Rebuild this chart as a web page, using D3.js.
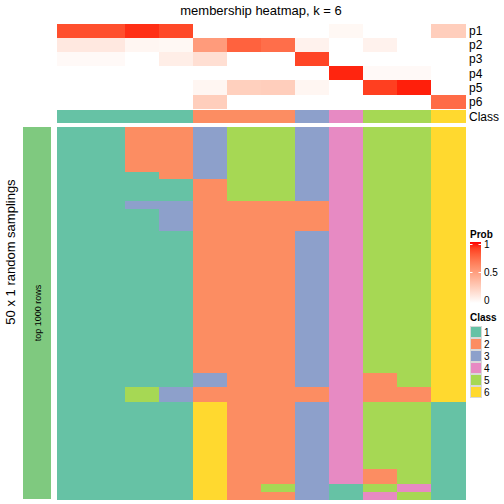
<!DOCTYPE html>
<html>
<head>
<meta charset="utf-8">
<script src="https://cdn.jsdelivr.net/npm/d3@7"></script>
<style>
  html, body { margin: 0; padding: 0; background: #fff; }
  svg { display: block; font-family: "Liberation Sans", Arial, Helvetica, sans-serif; }
</style>
</head>
<body>
<svg id="chart" width="504" height="504"></svg>
<script>
// ---------------- data ----------------
const title = "membership heatmap, k = 6";
const probRows = ["p1", "p2", "p3", "p4", "p5", "p6"];
const p1 = [0.85, 0.85, 0.94, 0.87, 0, 0, 0, 0, 0.04, 0, 0, 0.26];
const p2 = [0.12, 0.12, 0.05, 0.04, 0.52, 0.78, 0.73, 0.07, 0, 0.07, 0, 0];
const p3 = [0.03, 0.03, 0, 0.09, 0.17, 0, 0, 0.88, 0, 0, 0, 0];
const p4 = [0, 0, 0, 0, 0, 0, 0, 0, 0.96, 0.03, 0.03, 0];
const p5 = [0, 0, 0, 0, 0.05, 0.25, 0.26, 0.05, 0, 0.90, 0.97, 0];
const p6 = [0, 0, 0, 0, 0.26, 0, 0, 0, 0, 0, 0, 0.74];
const classRow = [1, 1, 1, 1, 2, 2, 2, 3, 4, 5, 5, 6];
// 50 random samplings x 12 samples: class per cell
const samplings = [
  "112235534556","112235534556","112235534556","112235534556","112235534556","112235534556",
  "111235534556",
  "111125534556","111125534556","111125534556",
  "113322224556",
  "111322224556","111322224556","111322224556",
  "111122234556","111122234556","111122234556","111122234556","111122234556",
  "111122234556","111122234556","111122234556","111122234556","111122234556",
  "111122234556","111122234556","111122234556","111122234556","111122234556",
  "111122234556","111122234556","111122234556","111122234556",
  "111132234256","111132234256",
  "115322224226","115322224226",
  "111162234551","111162234551","111162234551","111162234551","111162234551",
  "111162234551","111162234551","111162234551","111162234551",
  "111162234251","111162234251",
  "111162531541",
  "111162231451"
];
const classLabels = ["1", "2", "3", "4", "5", "6"];
const classColors = ["#66c2a5", "#fc8d62", "#8da0cb", "#e78ac3", "#a6d854", "#ffd92f"];
const probTicks = [0, 0.5, 1];
const leftBarLabel = "top 1000 rows";
const leftAxisLabel = "50 x 1 random samplings";

// ---------------- drawing ----------------
const svg = d3.select("#chart");
const nCols = classRow.length;
const probData = [p1, p2, p3, p4, p5, p6];

const x = d3.scaleBand().domain(d3.range(nCols)).range([57, 465]).paddingInner(0);
const yProb = d3.scaleBand().domain(probRows).range([24, 108.6]);
const yMain = d3.scaleBand().domain(d3.range(samplings.length)).range([127, 499]);
const probColor = d3.scaleLinear().domain([0, 1]).range(["#ffffff", "#ff0000"]).interpolate(d3.interpolateLab);
const classColor = d3.scaleOrdinal().domain(classLabels).range(classColors);

// title
svg.append("text").attr("x", 261).attr("y", 15).attr("text-anchor", "middle")
  .attr("font-size", 13).attr("fill", "#000").text(title);

// probability heatmap
const probG = svg.append("g").attr("shape-rendering", "crispEdges");
probRows.forEach((r, i) => {
  probG.selectAll(null).data(probData[i]).enter().append("rect")
    .attr("x", (d, j) => x(j)).attr("y", yProb(r))
    .attr("width", x.bandwidth() + 0.5).attr("height", yProb.bandwidth() + 0.5)
    .attr("fill", d => probColor(d));
  svg.append("text").attr("x", 469).attr("y", yProb(r) + yProb.bandwidth() / 2)
    .attr("dy", "0.35em").attr("font-size", 12).text(r);
});

// class annotation row
const classY = 110, classH = 13.4;
probG.selectAll(null).data(classRow).enter().append("rect")
  .attr("x", (d, j) => x(j)).attr("y", classY)
  .attr("width", x.bandwidth() + 0.5).attr("height", classH)
  .attr("fill", d => classColor(String(d)));
svg.append("text").attr("x", 469).attr("y", classY + classH / 2).attr("dy", "0.35em")
  .attr("font-size", 12).text("Class");

// main sampling heatmap
const cells = [];
samplings.forEach((row, i) => {
  row.split("").forEach((c, j) => cells.push({ i, j, c }));
});
svg.append("g").attr("shape-rendering", "crispEdges")
  .selectAll("rect").data(cells).enter().append("rect")
  .attr("x", d => x(d.j)).attr("y", d => yMain(d.i))
  .attr("width", x.bandwidth() + 0.5).attr("height", yMain.bandwidth() + 0.5)
  .attr("fill", d => classColor(d.c));

// left bar
svg.append("rect").attr("x", 23).attr("y", 127).attr("width", 28).attr("height", 372)
  .attr("fill", "#7fc97f");
svg.append("text").attr("transform", "translate(40.5,313) rotate(-90)")
  .attr("text-anchor", "middle").attr("font-size", 9).text(leftBarLabel);
svg.append("text").attr("transform", "translate(15,252) rotate(-90)")
  .attr("text-anchor", "middle").attr("font-size", 13).text(leftAxisLabel);

// Prob legend
const lg = svg.append("g");
lg.append("text").attr("x", 470).attr("y", 238).attr("font-size", 10)
  .attr("font-weight", "bold").text("Prob");
const grad = svg.append("defs").append("linearGradient").attr("id", "probGrad")
  .attr("x1", 0).attr("y1", 1).attr("x2", 0).attr("y2", 0);
d3.range(0, 1.0001, 0.1).forEach(t => {
  grad.append("stop").attr("offset", t).attr("stop-color", probColor(t));
});
const yLeg = d3.scaleLinear().domain([0, 1]).range([300.5, 244.5]);
lg.append("rect").attr("x", 470).attr("y", 242).attr("width", 11).attr("height", 61)
  .attr("fill", "url(#probGrad)");
probTicks.forEach(t => {
  if (t > 0) {
    lg.append("line").attr("x1", 470).attr("x2", 472.5).attr("y1", yLeg(t)).attr("y2", yLeg(t))
      .attr("stroke", "#fff").attr("stroke-width", 1);
    lg.append("line").attr("x1", 478.5).attr("x2", 481).attr("y1", yLeg(t)).attr("y2", yLeg(t))
      .attr("stroke", "#fff").attr("stroke-width", 1);
  }
  lg.append("text").attr("x", 484).attr("y", yLeg(t)).attr("dy", "0.35em")
    .attr("font-size", 10).text(String(t));
});

// Class legend
lg.append("text").attr("x", 470).attr("y", 321).attr("font-size", 10)
  .attr("font-weight", "bold").text("Class");
classLabels.forEach((c, i) => {
  const yy = 326.5 + i * 12;
  lg.append("rect").attr("x", 470.5).attr("y", yy).attr("width", 11).attr("height", 11)
    .attr("fill", classColor(c)).attr("stroke", "#d9d9d9").attr("stroke-width", 1);
  lg.append("text").attr("x", 484).attr("y", yy + 5.5).attr("dy", "0.35em")
    .attr("font-size", 10).text(c);
});
</script>
</body>
</html>
